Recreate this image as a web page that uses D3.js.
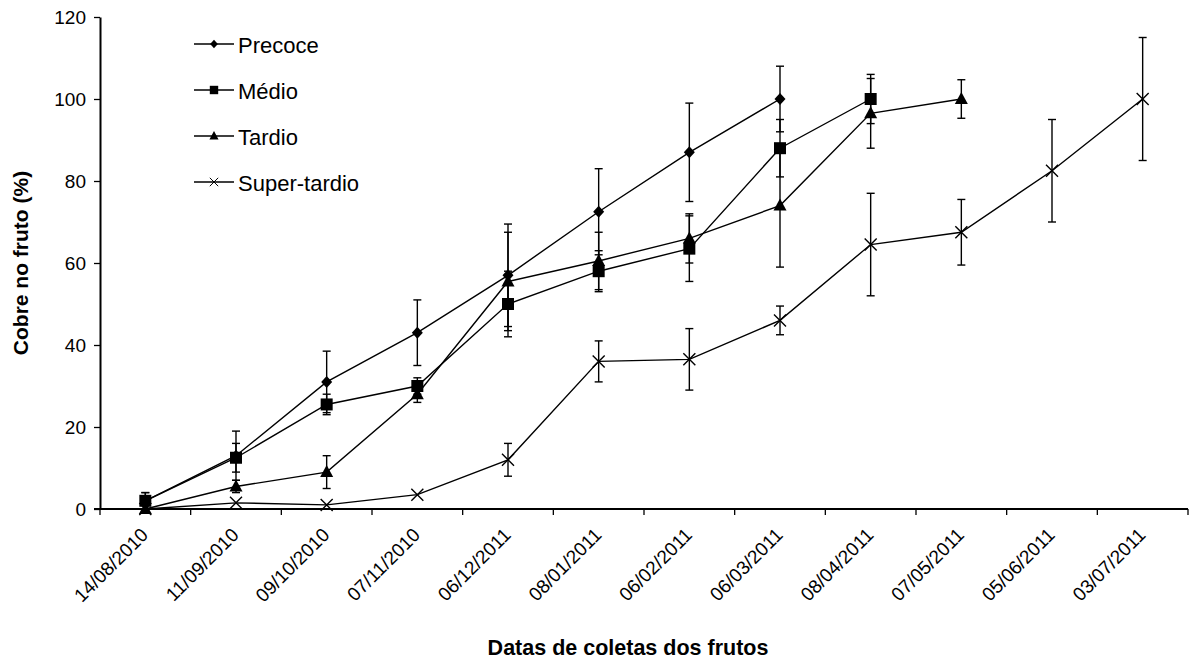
<!DOCTYPE html>
<html>
<head>
<meta charset="utf-8">
<script src="https://cdn.jsdelivr.net/npm/d3@7"></script>
<style>
  body { margin: 0; background: #fff; }
  svg { display: block; font-family: "Liberation Sans", Arial, sans-serif; }
</style>
</head>
<body>
<svg id="chart" width="1198" height="659"></svg>
<script>
// Collection dates (categories)
const dates = ["14/08/2010","11/09/2010","09/10/2010","07/11/2010","06/12/2011","08/01/2011",
               "06/02/2011","06/03/2011","08/04/2011","07/05/2011","05/06/2011","03/07/2011"];
const yTicks = [0, 20, 40, 60, 80, 100, 120];

// Mean values (%) per group; null = no collection
const precoce      = [2, 13, 31, 43, 57, 72.5, 87, 100, null, null, null, null];
const medio        = [2, 12.5, 25.5, 30, 50, 58, 63.5, 88, 100, null, null, null];
const tardio       = [0, 5.5, 9, 28, 55.5, 60.5, 66, 74, 96.5, 100, null, null];
const superTardio  = [0, 1.5, 1, 3.5, 12, 36, 36.5, 46, 64.5, 67.5, 82.5, 100];

// Error (± deviation) per group
const precoceErr     = [2, 6, 7.5, 8, 12.5, 10.5, 12, 8, null, null, null, null];
const medioErr       = [2, 3.5, 2.5, 2, 8, 5, 8, 7, 6, null, null, null];
const tardioErr      = [0, 1.5, 4, 2, 12, 7, 6, 15, 8.5, 4.7, null, null];
const superTardioErr = [0, 0, 0, 0, 4, 5, 7.5, 3.5, 12.5, 8, 12.5, 15];

const groups = [
  { name: "Precoce", values: precoce, err: precoceErr, symbol: "diamond" },
  { name: "Médio", values: medio, err: medioErr, symbol: "square" },
  { name: "Tardio", values: tardio, err: tardioErr, symbol: "triangle" },
  { name: "Super-tardio", values: superTardio, err: superTardioErr, symbol: "cross" }
];

const svg = d3.select("#chart");
const left = 100, right = 1188;

const x = d3.scaleBand().domain(dates).range([left, right]).padding(0);
const y = d3.scaleLinear().domain([0, 120]).range([509, 17]);

// Y axis
const yAxis = svg.append("g")
  .attr("transform", `translate(${left},0)`)
  .call(d3.axisLeft(y).tickValues(yTicks).tickSize(6).tickPadding(8).tickSizeOuter(0));
yAxis.select(".domain").attr("stroke", "#000").attr("stroke-width", 2);
yAxis.selectAll(".tick line").attr("stroke", "#000").attr("stroke-width", 1.3);
yAxis.selectAll(".tick text").attr("font-size", 19).attr("fill", "#000")
  .attr("font-family", "'Liberation Sans', Arial, sans-serif");

// X axis: ticks at category boundaries
const xAxisG = svg.append("g").attr("transform", `translate(0,${y(0)})`);
xAxisG.append("line")
  .attr("x1", left - 6).attr("x2", right)
  .attr("stroke", "#000").attr("stroke-width", 2);
const boundaries = dates.map(d => x(d)).concat([right]);
xAxisG.selectAll("line.tk").data(boundaries).enter().append("line")
  .attr("class", "tk")
  .attr("x1", d => d).attr("x2", d => d).attr("y1", 0).attr("y2", 6)
  .attr("stroke", "#000").attr("stroke-width", 1.3);
xAxisG.selectAll("text.lbl").data(dates).enter().append("text")
  .attr("class", "lbl")
  .attr("transform", d => `translate(${x(d) + x.bandwidth() / 2 + 4},${27}) rotate(-45)`)
  .attr("text-anchor", "end")
  .attr("font-size", 19)
  .attr("fill", "#000")
  .text(d => d);

// Axis titles
svg.append("text")
  .attr("x", 628).attr("y", 655)
  .attr("text-anchor", "middle")
  .attr("font-size", 21.5).attr("font-weight", "bold")
  .text("Datas de coletas dos frutos");
svg.append("text")
  .attr("transform", `translate(28,${(y(0) + y(120)) / 2}) rotate(-90)`)
  .attr("text-anchor", "middle")
  .attr("font-size", 21).attr("font-weight", "bold")
  .text("Cobre no fruto (%)");

const cx = d => x(d) + x.bandwidth() / 2;

function drawMarker(g, symbol, px, py) {
  if (symbol === "diamond") {
    g.append("path").attr("d", `M${px},${py - 6}L${px + 5.5},${py}L${px},${py + 6}L${px - 5.5},${py}Z`).attr("fill", "#000");
  } else if (symbol === "square") {
    g.append("rect").attr("x", px - 6).attr("y", py - 6).attr("width", 12).attr("height", 12).attr("fill", "#000");
  } else if (symbol === "triangle") {
    g.append("path").attr("d", `M${px},${py - 7}L${px + 6.5},${py + 5}L${px - 6.5},${py + 5}Z`).attr("fill", "#000");
  } else {
    g.append("path").attr("d", `M${px - 6},${py - 6}L${px + 6},${py + 6}M${px - 6},${py + 6}L${px + 6},${py - 6}`)
      .attr("stroke", "#000").attr("stroke-width", 1.4).attr("fill", "none");
  }
}

const plot = svg.append("g");
groups.forEach(gr => {
  const pts = dates.map((d, i) => ({ d, v: gr.values[i], e: gr.err[i] })).filter(p => p.v !== null);
  const g = plot.append("g");
  // error bars
  pts.filter(p => p.e > 0).forEach(p => {
    const px = cx(p.d);
    const y1 = y(p.v + p.e), y2 = y(Math.max(0, p.v - p.e));
    g.append("line").attr("x1", px).attr("x2", px).attr("y1", y1).attr("y2", y2)
      .attr("stroke", "#000").attr("stroke-width", 1.4);
    [y1, y2].forEach(yy => g.append("line").attr("x1", px - 4).attr("x2", px + 4).attr("y1", yy).attr("y2", yy)
      .attr("stroke", "#000").attr("stroke-width", 1.4));
  });
  // line
  g.append("path").datum(pts)
    .attr("d", d3.line().x(p => cx(p.d)).y(p => y(p.v)))
    .attr("fill", "none").attr("stroke", "#000").attr("stroke-width", 1.4);
  pts.forEach(p => drawMarker(g, gr.symbol, cx(p.d), y(p.v)));
});

// Legend
const legendY = [44, 90, 136, 182];
const leg = svg.append("g");
groups.forEach((gr, i) => {
  const ly = legendY[i];
  leg.append("line").attr("x1", 194).attr("x2", 234).attr("y1", ly).attr("y2", ly)
    .attr("stroke", "#000").attr("stroke-width", 1.4);
  const mg = leg.append("g").attr("transform", `translate(214,${ly}) scale(0.7) translate(-214,${-ly})`);
  drawMarker(mg, gr.symbol, 214, ly);
  leg.append("text").attr("x", 238).attr("y", ly + 9)
    .attr("font-size", 22).attr("fill", "#000").text(gr.name);
});
</script>
</body>
</html>
